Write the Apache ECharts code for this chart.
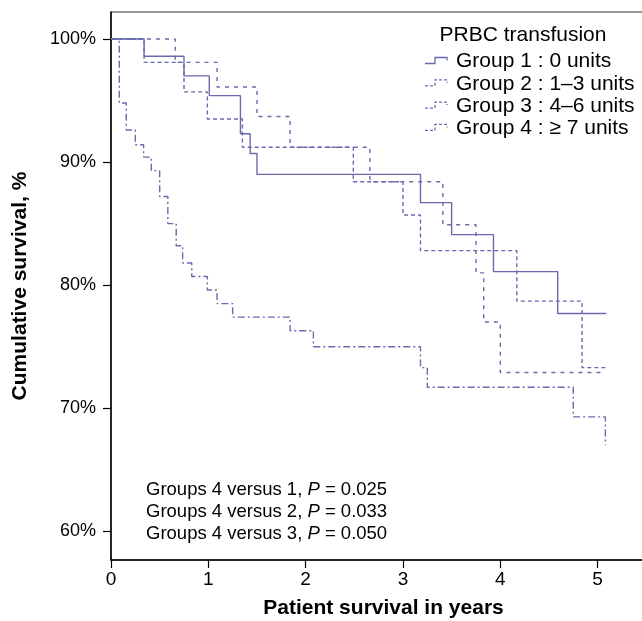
<!DOCTYPE html>
<html>
<head>
<meta charset="utf-8">
<script src="https://cdn.jsdelivr.net/npm/echarts@6/dist/echarts.min.js"></script>
<style>
  html, body { margin: 0; padding: 0; background: #fff; }
  #main { width: 642px; height: 621px; }
</style>
</head>
<body>
<div id="main"></div>
<script>
// Kaplan-Meier curves (years, cumulative survival %)
const group1Times = [0, 0.34, 0.75, 1.01, 1.33, 1.43, 1.50, 3.18, 3.50, 3.93, 4.59, 5.09];
const group1Surv  = [100, 98.6, 97.0, 95.4, 92.3, 90.7, 89.0, 86.7, 84.1, 81.1, 77.7, 77.7];

const group2Times = [0, 0.34, 0.75, 0.99, 1.35, 2.49, 3.00, 3.18, 4.17, 4.84, 5.09];
const group2Surv  = [100, 98.1, 95.7, 93.5, 91.2, 88.4, 85.7, 82.8, 78.7, 73.3, 73.3];

const group3Times = [0, 0.66, 1.09, 1.50, 1.84, 2.66, 3.41, 3.75, 3.83, 4.00, 5.05];
const group3Surv  = [100, 98.1, 96.1, 93.7, 91.2, 88.4, 84.9, 81.0, 77.0, 72.9, 72.9];

const group4Times = [0, 0.085, 0.157, 0.25, 0.335, 0.414, 0.50, 0.584, 0.67, 0.736, 0.83, 0.99, 1.09, 1.25, 1.84, 2.08, 3.18, 3.25, 4.75, 5.08];
const group4Surv  = [100, 94.8, 92.6, 91.4, 90.4, 89.3, 87.2, 85.0, 83.2, 81.8, 80.7, 79.6, 78.5, 77.4, 76.3, 75.0, 73.3, 71.7, 69.3, 67.0];

const groupNames = ['Group 1 : 0 units', 'Group 2 : 1\u20133 units', 'Group 3 : 4\u20136 units', 'Group 4 : \u2265 7 units'];
const groupDash  = ['solid', [4, 3], [4, 5], [7, 3, 2, 3]];
const xTicks = [0, 1, 2, 3, 4, 5];
const yTicks = [60, 70, 80, 90, 100];
const pValues = ['0.025', '0.033', '0.050'];

const FONT = '"Liberation Sans", Arial, Helvetica, sans-serif';
const LINE = '#6a6aae';

function pairs(t, s) { return t.map((v, i) => [v, s[i]]); }
const curves = [
  pairs(group1Times, group1Surv),
  pairs(group2Times, group2Surv),
  pairs(group3Times, group3Surv),
  pairs(group4Times, group4Surv)
];

let myChart = echarts.init(document.getElementById('main'));

// legend drawn by hand so the little step icons match
const legendEls = [{
  type: 'text', x: 523, y: 35,
  style: { text: 'PRBC transfusion', font: '21px ' + FONT, fill: '#000',
           textAlign: 'center', textVerticalAlign: 'middle', align: 'center', verticalAlign: 'middle' }
}];
groupNames.forEach((name, i) => {
  const cy = 61.5 + i * 22.3;
  legendEls.push({
    type: 'polyline',
    shape: { points: [[425, cy + 2], [435, cy + 2], [435, cy - 4], [447, cy - 4], [447, cy - 1]] },
    style: { stroke: LINE, lineWidth: 1.3, fill: null, lineDash: groupDash[i] === 'solid' ? null : [3, 2] }
  });
  legendEls.push({
    type: 'text', x: 456, y: cy,
    style: { text: name, font: '21px ' + FONT, fill: '#000',
             textVerticalAlign: 'middle', verticalAlign: 'middle' }
  });
});
pValues.forEach((p, i) => {
  legendEls.push({
    type: 'text', x: 146, y: 490 + i * 22,
    style: {
      text: 'Groups 4 versus ' + (i + 1) + ', {i|P} = ' + p,
      font: '18.5px ' + FONT, fill: '#000',
      textVerticalAlign: 'middle', verticalAlign: 'middle',
      rich: { i: { fontStyle: 'italic', fontSize: 18.5, fontFamily: FONT, fill: '#000' } }
    }
  });
});

myChart.setOption({
  animation: false,
  backgroundColor: '#fff',
  grid: { left: 111, top: 12, width: 545, height: 548, show: true, borderColor: '#333', borderWidth: 1,
          outerBoundsMode: 'none', containLabel: false },
  xAxis: {
    type: 'value', min: 0, max: 5.6,
    name: 'Patient survival in years', nameLocation: 'middle', nameGap: 38,
    nameTextStyle: { fontFamily: FONT, fontSize: 21, fontWeight: 'bold', color: '#000' },
    axisLine: { lineStyle: { color: '#000', width: 1.5 } },
    axisTick: { length: 8, lineStyle: { color: '#000', width: 1.2 }, customValues: xTicks },
    axisLabel: { fontFamily: FONT, fontSize: 19, color: '#000', margin: 10, customValues: xTicks },
    splitLine: { show: false }
  },
  yAxis: {
    type: 'value', min: 57.67, max: 102.19,
    name: 'Cumulative survival, %', nameLocation: 'middle', nameGap: 80,
    nameTextStyle: { fontFamily: FONT, fontSize: 21, fontWeight: 'bold', color: '#000' },
    axisLine: { show: true, lineStyle: { color: '#000', width: 1.5 } },
    axisTick: { show: true, length: 8, lineStyle: { color: '#000', width: 1.2 }, customValues: yTicks },
    axisLabel: { fontFamily: FONT, fontSize: 18, color: '#000', margin: 15, customValues: yTicks,
                 formatter: v => v + '%' },
    splitLine: { show: false }
  },
  graphic: legendEls,
  series: curves.map((data, i) => ({
    name: groupNames[i],
    type: 'line',
    step: 'end',
    data: data,
    symbol: 'none',
    lineStyle: { color: LINE, width: 1.4, type: groupDash[i] }
  }))
});
</script>
</body>
</html>
